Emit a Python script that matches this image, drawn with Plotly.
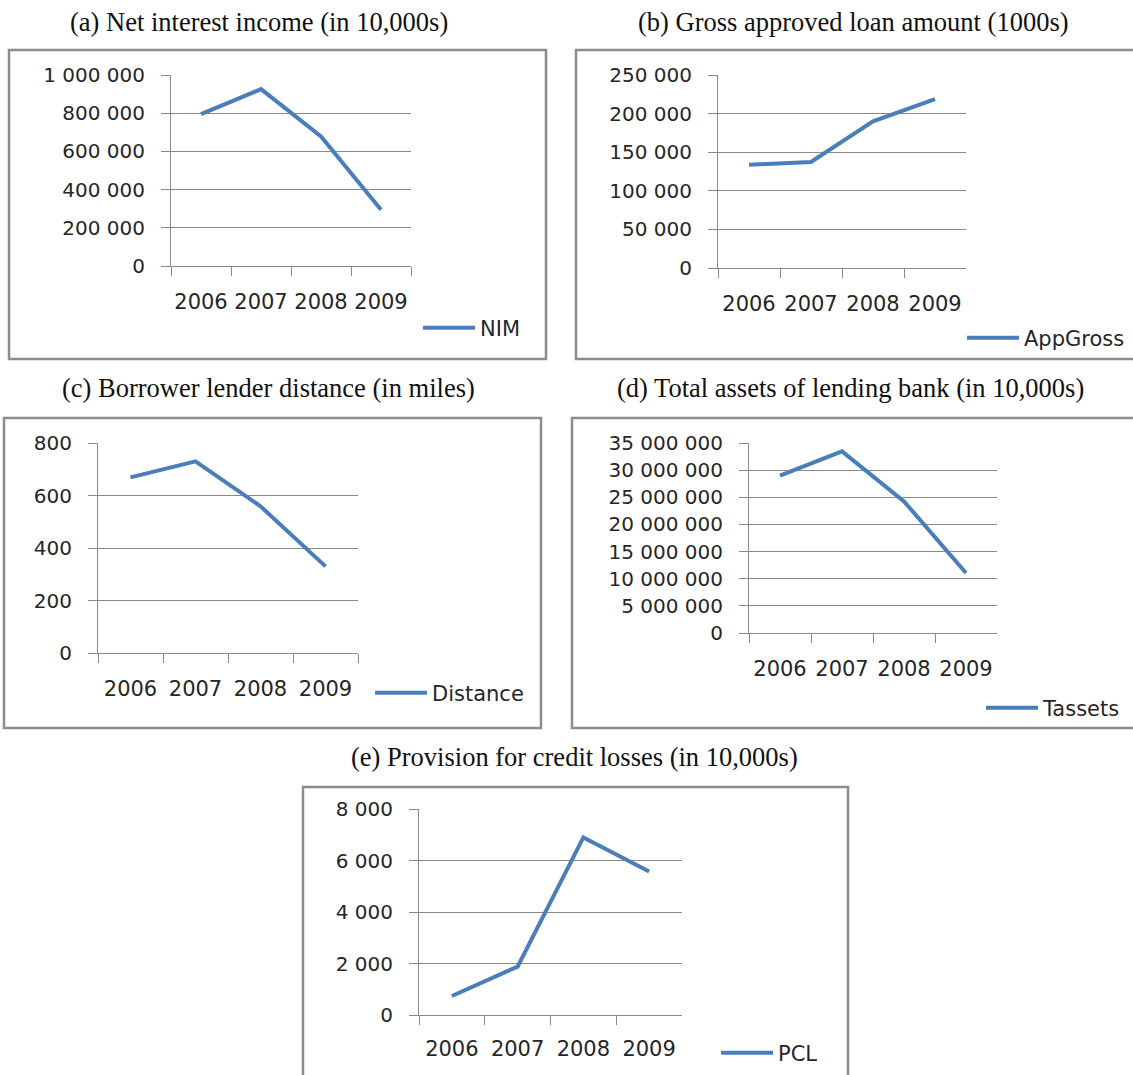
import plotly.graph_objects as go

# ---------------- data ----------------
years = ["2006", "2007", "2008", "2009"]
nim = [795000, 926000, 678000, 294000]
appgross = [133800, 137300, 190000, 218900]
distance = [669, 730, 559, 330]
tassets = [29000000, 33460000, 24250000, 11050000]
pcl = [739, 1880, 6898, 5575]

titles = [
    "(a) Net interest income (in 10,000s)",
    "(b) Gross approved loan amount (1000s)",
    "(c) Borrower lender distance (in miles)",
    "(d) Total assets of lending bank (in 10,000s)",
    "(e) Provision for credit losses (in 10,000s)",
]
series_names = ["NIM", "AppGross", "Distance", "Tassets", "PCL"]
series_values = [nim, appgross, distance, tassets, pcl]
y_max = [1000000, 250000, 800, 35000000, 8000]
y_step = [200000, 50000, 200, 5000000, 2000]

# ---------------- layout (pixels) ----------------
W, H = 1133, 1075
# plot area: x0, x1, ytop, ybottom
plot_px = [(171, 411, 75, 266), (718, 966, 75, 268), (98, 358, 443, 653),
           (749, 997, 443, 633), (419, 682, 809, 1015)]
# frame box: x0, x1, ytop, ybottom
box_px = [(9, 546, 50, 359), (576, 1140, 50, 359), (4, 541, 418, 728),
          (572, 1140, 418, 728), (303, 848, 787, 1080)]
title_px = [(259, 22), (853, 22), (268, 388), (850, 388), (574, 757)]
legend_px = [(424, 328), (968, 338), (376, 693), (987, 708), (722, 1053)]
xlabel_standoff = [17, 17, 17, 17, 15]

LINE = "#4A7EBB"
GRID = "#8a8a8a"
FRAME = "#8c8c8c"
YFONT = dict(family="DejaVu Sans", size=20, color="#262626")
XFONT = dict(family="DejaVu Sans", size=21, color="#262626")
LEGFONT = dict(family="DejaVu Sans", size=21, color="#262626")
TITLEFONT = dict(family="Liberation Serif", size=26.5, color="#111111")

def px_x(v):
    return v / W

def px_y(v):
    return 1 - v / H

fig = go.Figure()
shapes, annotations = [], []
layout = dict(
    template="none",
    width=W, height=H, autosize=False,
    margin=dict(l=0, r=0, t=0, b=0, pad=0),
    paper_bgcolor="white", plot_bgcolor="white",
    separators=". ",
    showlegend=True,
)

for i in range(5):
    s = "" if i == 0 else str(i + 1)
    x0, x1, yt, yb = plot_px[i]
    fig.add_trace(go.Scatter(
        x=years, y=series_values[i], name=series_names[i],
        mode="lines", line=dict(color=LINE, width=4),
        xaxis="x" + s, yaxis="y" + s,
        legend="legend" if i == 0 else "legend" + str(i + 1),
        hoverinfo="skip",
    ))
    layout["xaxis" + s] = dict(
        domain=[px_x(x0), px_x(x1)], anchor="y" + s,
        type="category", categoryorder="array", categoryarray=years,
        range=[-0.5, 3.5], tickson="boundaries", tickangle=0,
        ticks="outside", ticklen=9, tickwidth=1, tickcolor=GRID,
        showline=True, linecolor=GRID, linewidth=1,
        showgrid=False, zeroline=False, automargin=False,
        tickfont=XFONT, ticklabelstandoff=xlabel_standoff[i], fixedrange=True,
    )
    layout["yaxis" + s] = dict(
        domain=[px_y(yb), px_y(yt)], anchor="x" + s,
        range=[0, y_max[i]], tick0=0, dtick=y_step[i],
        tickformat=",d",
        ticks="outside", ticklen=9, tickwidth=1, tickcolor=GRID,
        showline=True, linecolor=GRID, linewidth=1,
        showgrid=True, gridcolor=GRID, gridwidth=1, zeroline=False,
        automargin=False,
        tickfont=YFONT, ticklabelstandoff=12, fixedrange=True,
    )
    bx0, bx1, byt, byb = box_px[i]
    shapes.append(dict(
        type="rect", xref="paper", yref="paper",
        x0=px_x(bx0), x1=px_x(bx1), y0=px_y(byb), y1=px_y(byt),
        line=dict(color=FRAME, width=2.5), fillcolor="rgba(0,0,0,0)",
        layer="below",
    ))
    tx, ty = title_px[i]
    annotations.append(dict(
        text=titles[i], xref="paper", yref="paper",
        x=px_x(tx), y=px_y(ty), xanchor="center", yanchor="middle",
        showarrow=False, font=TITLEFONT,
    ))
    lx, ly = legend_px[i]
    layout["legend" if i == 0 else "legend" + str(i + 1)] = dict(
        x=px_x(lx - 6), y=px_y(ly), xanchor="left", yanchor="middle",
        xref="paper", yref="paper",
        bgcolor="rgba(0,0,0,0)", borderwidth=0,
        font=LEGFONT, itemwidth=52, tracegroupgap=0,
    )

layout["shapes"] = shapes
layout["annotations"] = annotations
fig.update_layout(**layout)

fig.write_html(
    "out.html",
    config={"displayModeBar": False, "staticPlot": True},
    post_script="document.body.style.margin='0';document.body.style.overflow='hidden';",
)
